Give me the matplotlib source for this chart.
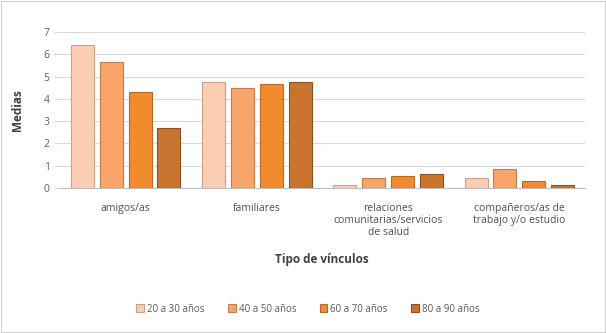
import matplotlib
matplotlib.use('Agg')
import matplotlib.pyplot as plt
import numpy as np

plt.rcParams['font.family'] = ['Open Sans', 'DejaVu Sans']

categorias = ['amigos/as', 'familiares',
              'relaciones\ncomunitarias/servicios\nde salud',
              'compañeros/as de\ntrabajo y/o estudio']
grupos = ['20 a 30 años', '40 a 50 años', '60 a 70 años', '80 a 90 años']
valores = [
    [6.4, 4.77, 0.15, 0.47],   # 20 a 30
    [5.66, 4.47, 0.47, 0.85],  # 40 a 50
    [4.29, 4.66, 0.52, 0.33],  # 60 a 70
    [2.68, 4.77, 0.64, 0.13],  # 80 a 90
]
colores = ['#FBCDB2', '#F9A469', '#F28A2E', '#C9742E']
bordes = ['#C9A08A', '#C07E50', '#B86A26', '#8F5322']

fig = plt.figure(figsize=(6.06, 3.33), dpi=100)
ax = fig.add_axes([60/606, 1 - 188/333, 525/606, 156/333])

x = np.arange(len(categorias))
paso = 0.22
ancho = 0.176
for i, (g, vals) in enumerate(zip(grupos, valores)):
    ax.bar(x + (i - 1.5) * paso, vals, ancho, label=g, color=colores[i],
           edgecolor=bordes[i], linewidth=0.8, zorder=3)

ax.set_xlim(-0.5, len(categorias) - 0.5)
ax.set_ylim(0, 7)
ax.set_yticks(range(0, 8))
ax.yaxis.grid(True, color='#D9D9D9', linewidth=0.8, zorder=0)
ax.set_xticks(x)
ax.set_xticklabels(categorias, fontsize=7.5, color='#505050', linespacing=1.1)
ax.tick_params(axis='x', length=0, pad=11)
ax.tick_params(axis='y', labelsize=7.5, colors='#606060', length=4, color='#D9D9D9')
for s in ['top', 'right', 'left']:
    ax.spines[s].set_visible(False)
ax.spines['bottom'].set_color('#BFBFBF')

fig.text(18/606, 1 - 110/333, 'Medias', rotation=90, fontsize=8.5,
         fontweight='bold', color='#404040', ha='center', va='center')
fig.text(322/606, 1 - 260/333, 'Tipo de vínculos', fontsize=8.5,
         fontweight='bold', color='#404040', ha='center', va='center')

fig.legend(loc='center', bbox_to_anchor=(308/606, 1 - 309/333), ncol=4,
           frameon=False, fontsize=7, handlelength=0.8, handleheight=0.8,
           columnspacing=2.4, handletextpad=0.3, labelcolor='#595959')

fig.patches.append(plt.Rectangle((0.002, 0.003), 0.996, 0.994, transform=fig.transFigure,
                                 fill=False, edgecolor='#D0D0D0', linewidth=0.8))

plt.savefig('out.png', dpi=100)
